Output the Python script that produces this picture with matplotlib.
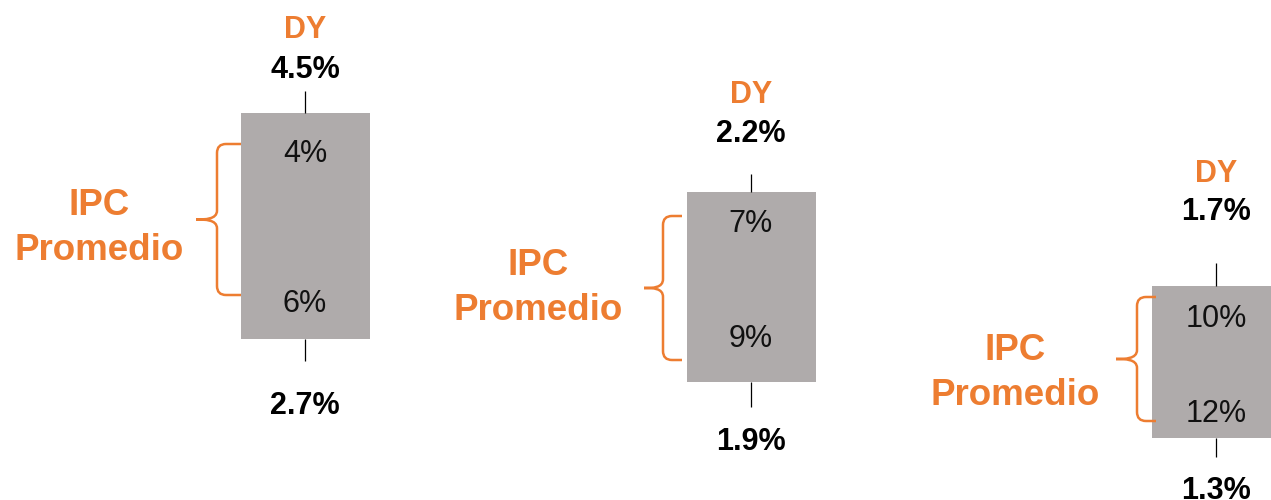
import matplotlib.pyplot as plt
from matplotlib.path import Path
from matplotlib.patches import PathPatch

plt.rcParams['font.family'] = ['Liberation Sans', 'DejaVu Sans']

# values shown for each scenario
dy_high = ['4.5%', '2.2%', '1.7%']
dy_low = ['2.7%', '1.9%', '1.3%']
ipc_low = ['4%', '7%', '10%']
ipc_high = ['6%', '9%', '12%']
dy_title = 'DY'
ipc_title = ['IPC', 'Promedio']

orange = '#ED7D31'
box_gray = '#AFABAB'

# layout of each group in pixel units (x right, y down)
centers = [305, 751, 1216]
box_top = [113, 192, 286]
box_bottom = [339, 382, 438]
box_width = 129
whisker_top = [91, 174, 263]
whisker_bottom = [361, 407, 457]
brace_top = [144, 216, 297]
brace_bottom = [295, 360, 421]
brace_end = [241, 682, 1156]
brace_x = [217, 663, 1137]
brace_tip = [196, 644, 1116]
label_x = [99, 538, 1015]
# text baselines
y_dy_title = [38, 103, 182]
y_dy_high = [78, 142, 220]
y_ipc_low = [162, 232, 327]
y_ipc_high = [312, 347, 422]
y_dy_low = [414, 450, 499]
y_ipc_title = [215, 275, 360]


def brace_path(x_end, x_v, x_tip, top, bottom, r=9):
    mid = (top + bottom) / 2
    verts = [
        (x_end, top),
        (x_v + r, top), (x_v, top), (x_v, top + r),
        (x_v, mid - r),
        (x_v, mid), (x_tip + r, mid), (x_tip, mid),
        (x_tip + r, mid), (x_v, mid), (x_v, mid + r),
        (x_v, bottom - r),
        (x_v, bottom), (x_v + r, bottom), (x_end, bottom),
    ]
    codes = [Path.MOVETO,
             Path.LINETO, Path.CURVE3, Path.CURVE3,
             Path.LINETO,
             Path.CURVE4, Path.CURVE4, Path.CURVE4,
             Path.CURVE4, Path.CURVE4, Path.CURVE4,
             Path.LINETO,
             Path.CURVE3, Path.CURVE3, Path.LINETO]
    return Path(verts, codes)


fig = plt.figure(figsize=(12.71, 5), dpi=100)
ax = fig.add_axes([0, 0, 1, 1])
ax.set_xlim(0, 1271)
ax.set_ylim(500, 0)
ax.axis('off')

heights = [b - t for t, b in zip(box_top, box_bottom)]
ax.bar(centers, heights, bottom=box_top, width=box_width, color=box_gray, zorder=2)
ax.vlines(centers, whisker_top, box_top, color='black', lw=0.9)
ax.vlines(centers, box_bottom, whisker_bottom, color='black', lw=0.9)

for i in range(len(centers)):
    cx = centers[i]
    p = brace_path(brace_end[i], brace_x[i], brace_tip[i], brace_top[i], brace_bottom[i])
    ax.add_patch(PathPatch(p, fill=False, edgecolor=orange, lw=1.8, zorder=3))

    ax.text(cx, y_dy_title[i], dy_title, color=orange, fontsize=22, fontweight='bold',
            ha='center', va='baseline')
    ax.text(cx, y_dy_high[i], dy_high[i], color='black', fontsize=22, fontweight='bold',
            ha='center', va='baseline')
    ax.text(cx, y_dy_low[i], dy_low[i], color='black', fontsize=22, fontweight='bold',
            ha='center', va='baseline')
    ax.text(cx, y_ipc_low[i], ipc_low[i], color='#111111', fontsize=22,
            ha='center', va='baseline', zorder=4)
    ax.text(cx, y_ipc_high[i], ipc_high[i], color='#111111', fontsize=22,
            ha='center', va='baseline', zorder=4)
    ax.text(label_x[i], y_ipc_title[i], ipc_title[0], color=orange, fontsize=26.5,
            fontweight='bold', ha='center', va='baseline')
    ax.text(label_x[i], y_ipc_title[i] + 45, ipc_title[1], color=orange, fontsize=26.5,
            fontweight='bold', ha='center', va='baseline')

fig.savefig('out.png', dpi=100, facecolor='white')
